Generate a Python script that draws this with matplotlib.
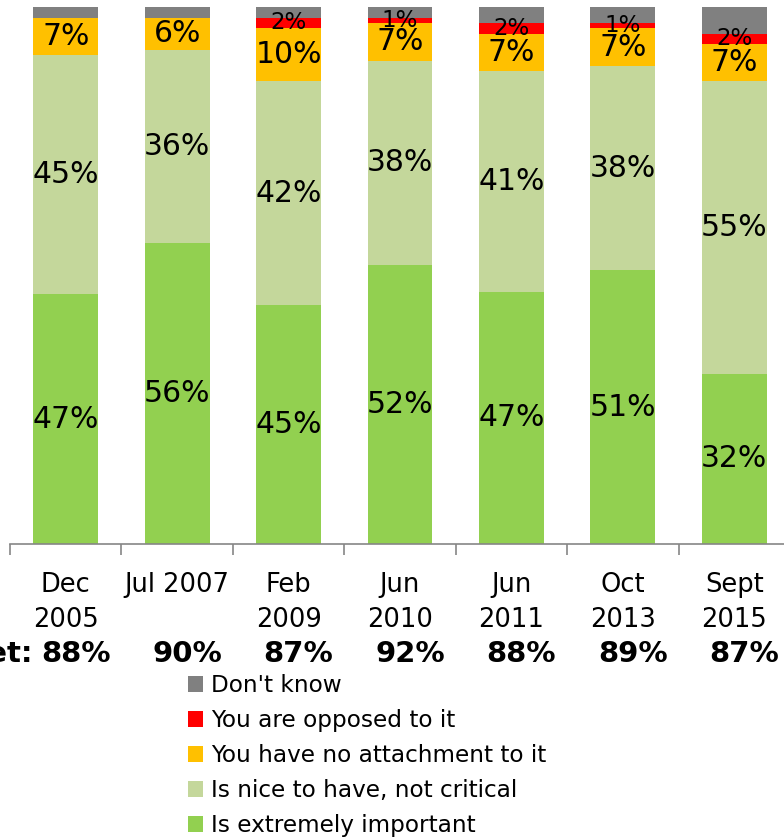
import matplotlib
matplotlib.use('Agg')
import matplotlib.pyplot as plt
from matplotlib.patches import Patch
from matplotlib.transforms import blended_transform_factory
import numpy as np

plt.rcParams['font.family'] = ['DejaVu Sans']

# 数据
categories = ['Dec\n2005', 'Jul 2007', 'Feb\n2009', 'Jun\n2010', 'Jun\n2011', 'Oct\n2013', 'Sept\n2015']
extremely_important = [47, 56, 45, 52, 47, 51, 32]
nice_to_have = [45, 36, 42, 38, 41, 38, 55]
no_attachment = [7, 6, 10, 7, 7, 7, 7]
opposed = [0, 0, 2, 1, 2, 1, 2]
dont_know = [2, 2, 2, 2, 3, 3, 5]
net_values = [88, 90, 87, 92, 88, 89, 87]

series_names = ['Is extremely important', 'Is nice to have, not critical',
                'You have no attachment to it', 'You are opposed to it', "Don't know"]
colors = ['#92D050', '#C4D79B', '#FFC000', '#FF0000', '#808080']

data = np.array([extremely_important, nice_to_have, no_attachment, opposed, dont_know], dtype=float)
# 100%堆积柱状图：按总和归一化
pct = data / data.sum(axis=0) * 100

fig = plt.figure(figsize=(7.84, 8.4), dpi=100)
ax = fig.add_axes([10 / 784, 296 / 840, 780 / 784, 537 / 840])

x = np.arange(len(categories))
bottom = np.zeros(len(categories))
for i in range(len(series_names)):
    ax.bar(x, pct[i], 0.583, bottom=bottom, color=colors[i], linewidth=0)
    for j in range(len(categories)):
        if i == 4 or data[i, j] == 0:
            continue
        yc = bottom[j] + pct[i, j] / 2
        size = 16.5 if i == 3 else 21.5
        ax.text(x[j], yc, f"{data[i, j]:.0f}%", ha='center', va='center',
                fontsize=size, color='black')
    bottom += pct[i]

ax.set_xlim(-0.5, 6.5)
ax.set_ylim(0, 100)
for s in ['top', 'right', 'left']:
    ax.spines[s].set_visible(False)
ax.spines['bottom'].set_color('#868686')
ax.spines['bottom'].set_linewidth(1.2)
ax.set_yticks([])

# 分类边界刻度 + 居中标签
ax.set_xticks(np.arange(-0.5, 7, 1))
ax.tick_params(axis='x', which='major', length=8, width=1.2, color='#868686', labelbottom=False)
ax.set_xticks(x, minor=True)
ax.set_xticklabels(categories, minor=True, fontsize=18.5, linespacing=1.45)
ax.tick_params(axis='x', which='minor', length=0, pad=20)

# Net 行
trans = blended_transform_factory(ax.transData, fig.transFigure)
for j, v in enumerate(net_values):
    ax.text(x[j] + 0.09, (840 - 662) / 840, f"{v}%", transform=trans, ha='center',
            va='baseline', fontsize=21, fontweight='bold')
fig.text(33 / 784, (840 - 662) / 840, 'Net:', ha='right', va='baseline', fontsize=21, fontweight='bold')

# 图例
handles = [Patch(facecolor=colors[i], edgecolor='none') for i in range(4, -1, -1)]
labels = [series_names[i] for i in range(4, -1, -1)]
fig.legend(handles, labels, loc='upper left', bbox_to_anchor=(188 / 784, 1 - 674 / 840),
           frameon=False, fontsize=16.7, handlelength=0.65, handleheight=0.65,
           handletextpad=0.35, labelspacing=0.52, borderaxespad=0, borderpad=0)

fig.savefig('out.png', dpi=100)
